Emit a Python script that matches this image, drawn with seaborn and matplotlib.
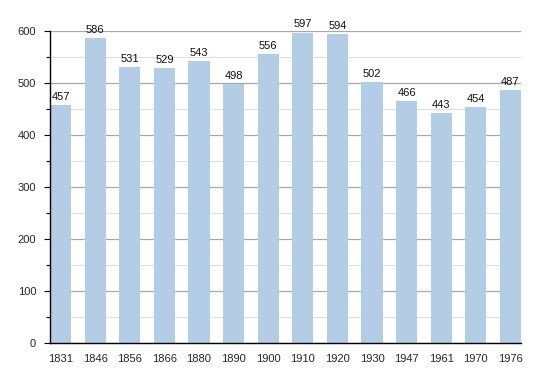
import matplotlib
matplotlib.use("Agg")
import matplotlib.pyplot as plt
import seaborn as sns
import pandas as pd
from matplotlib.ticker import MultipleLocator

years = ["1831", "1846", "1856", "1866", "1880", "1890", "1900", "1910", "1920", "1930", "1947", "1961", "1970", "1976"]
population = [457, 586, 531, 529, 543, 498, 556, 597, 594, 502, 466, 443, 454, 487]

df = pd.DataFrame({"year": years, "pop": population})

sns.set_theme(style="white")
plt.rcParams["font.family"] = ["Liberation Sans", "DejaVu Sans"]

fig = plt.figure(figsize=(5.5, 3.73), dpi=100)
ax = fig.add_axes([50/550, 1-343/373, 471/550, 312/373])

sns.barplot(data=df, x="year", y="pop", color="#b3cde6", width=0.61, saturation=1,
            edgecolor="none", linewidth=0, ax=ax)
for p in ax.patches:
    p.set_zorder(3)

for i, v in enumerate(population):
    ax.text(i, v + 6, str(v), ha="center", va="bottom", fontsize=8, color="#111111", zorder=4)

ax.set_ylim(0, 600)
ax.set_xlim(-0.305, 13.305)
ax.yaxis.set_major_locator(MultipleLocator(100))
ax.yaxis.set_minor_locator(MultipleLocator(50))
ax.grid(axis="y", which="major", color="#a8a8a8", linewidth=0.9, zorder=0)
ax.grid(axis="y", which="minor", color="#e0e0e0", linewidth=0.9, zorder=0)
ax.set_axisbelow(True)
ax.set_xlabel("")
ax.set_ylabel("")
for s in ["top", "right"]:
    ax.spines[s].set_visible(False)
ax.spines["left"].set_color("black")
ax.spines["bottom"].set_color("black")
ax.spines["left"].set_linewidth(1)
ax.spines["bottom"].set_linewidth(1)
ax.spines["left"].set_zorder(5)
ax.spines["bottom"].set_zorder(5)
ax.tick_params(axis="y", which="major", left=True, length=4, width=0.8, color="black", labelsize=8, pad=6)
ax.tick_params(axis="y", which="minor", left=True, length=3, width=0.8, color="black")
ax.tick_params(axis="x", bottom=False, labelsize=8, pad=2)

fig.savefig("out.png", dpi=100)
